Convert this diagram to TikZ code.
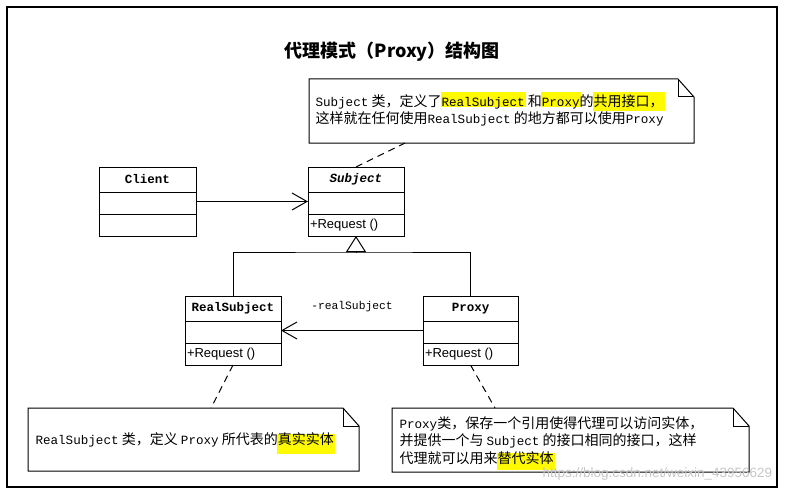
\documentclass[tikz,border=0pt]{standalone}
\usepackage{fontspec}
\usepackage{tikz}
\usetikzlibrary{arrows.meta}
\newfontfamily\cjk{Noto Sans CJK SC}
\newfontfamily\mono[Scale=0.9]{Liberation Mono}
\newfontfamily\clsfont{Liberation Mono}
\newfontfamily\opfont{Liberation Sans}
\definecolor{hlyellow}{RGB}{255,250,0}
\newcommand\hlt[3]{\setbox0\hbox{#3}\rlap{\kern-1pt\smash{\color{hlyellow}\rule[#1]{\dimexpr\wd0+2pt\relax}{#2}}}\box0\relax}

\begin{document}
\begin{tikzpicture}[x=1pt,y=-1pt,line width=1pt,
  clsbox/.style={draw,inner sep=0pt,outer sep=0pt},
  clstitle/.style={font=\clsfont\bfseries\fontsize{12.5}{14}\selectfont,inner sep=0pt},
  opname/.style={font=\opfont\fontsize{13}{15}\selectfont,inner sep=0pt,anchor=west},
  notebox/.style={inner sep=0pt,outer sep=0pt},
  notetext/.style={font=\cjk\fontsize{14}{17.5}\selectfont,align=left,inner sep=0pt,anchor=west},
  notelink/.style={dash pattern=on 7pt off 5pt},
  assoc/.style={-{Straight Barb[length=15pt,width=17pt]}},
  inherit/.style={-{Triangle[open,length=16pt,width=20pt]}}]
{
\useasboundingbox (0,0) rectangle (785,495);
\draw[line width=1.5pt] (7,7) rectangle (777,487);
\node[font=\cjk\bfseries\fontsize{18}{20}\selectfont] (title) at (392,52) {代理模式（Proxy）结构图};
\foreach \nm/\lx/\ty/\w/\ttl in {client/99/167/97/Client,subject/308/167/96/{\textit{Subject}},realsubject/185/296/96/RealSubject,proxy/423/296/95/Proxy}{
\node[clsbox,minimum width=\w pt,minimum height=69pt,anchor=north west] (\nm) at (\lx,\ty) {};
\node[clstitle] (\nm-name) at ([yshift=-12.5pt]\nm.north) {\ttl};
\draw ([yshift=-25pt]\nm.north west) -- ([yshift=-25pt]\nm.north east);
\draw ([yshift=-47pt]\nm.north west) -- ([yshift=-47pt]\nm.north east);
}
\foreach \nm in {subject,realsubject,proxy}
\node[opname] (\nm-op) at ([xshift=1.5pt,yshift=-58pt]\nm.north west) {+Request ()};
\foreach \nm/\lx/\ty/\w/\h in {topnote/309/79/385/64,leftnote/28/408/331/63,rightnote/392/408/357/64}{
\node[notebox,minimum width=\w pt,minimum height=\h pt,anchor=north west] (\nm) at (\lx,\ty) {};
\draw (\nm.north west) -- ([xshift=-16pt]\nm.north east) -- ([yshift=-18pt]\nm.north east) -- (\nm.south east) -- (\nm.south west) -- cycle;
\draw ([xshift=-16pt]\nm.north east) -- ([xshift=-16pt,yshift=-18pt]\nm.north east) -- ([yshift=-18pt]\nm.north east);
}
\node[notetext] (topnote-text) at (315,110.5) {{\mono Subject} 类，定义了\hlt{-1pt}{15pt}{\mono RealSubject} 和\hlt{-1pt}{15pt}{\mono Proxy}的\hlt{-5pt}{19pt}{共用接口，}\\这样就在任何使用{\mono RealSubject} 的地方都可以使用{\mono Proxy}};
\node[notetext] (leftnote-text) at (35,440) {{\mono RealSubject} 类，定义 {\mono Proxy} 所代表的\hlt{-9pt}{20pt}{真实实体}};
\node[notetext] (rightnote-text) at (399,440.5) {{\mono Proxy}类，保存一个引用使得代理可以访问实体，\\并提供一个与 {\mono Subject} 的接口相同的接口，这样\\代理就可以用来\hlt{-7pt}{17pt}{替代实体}};
\draw[assoc] (client) -- (subject);
\draw[assoc] (proxy) -- node[pos=0.5,yshift=24pt,font=\clsfont\fontsize{11.3}{13}\selectfont] (assoc-label) {-realSubject} (realsubject);
\coordinate (gen) at (subject.south |- 0,252);
\draw (realsubject.north) |- (gen) -| (proxy.north);
\draw[inherit] (gen) -- (subject.south);
\draw[notelink] (subject.north) -- ([xshift=96pt]topnote.south west);
\draw[notelink] (realsubject.south) -- ([xshift=183pt]leftnote.north west);
\draw[notelink] (proxy.south) -- ([xshift=103pt]rightnote.north west);
\node[font=\opfont\fontsize{13.5}{15}\selectfont,text=gray!45,anchor=east] (watermark) at (776,474) {https://blog.csdn.net/weixin\_43956629};
}
\end{tikzpicture}
\end{document}
